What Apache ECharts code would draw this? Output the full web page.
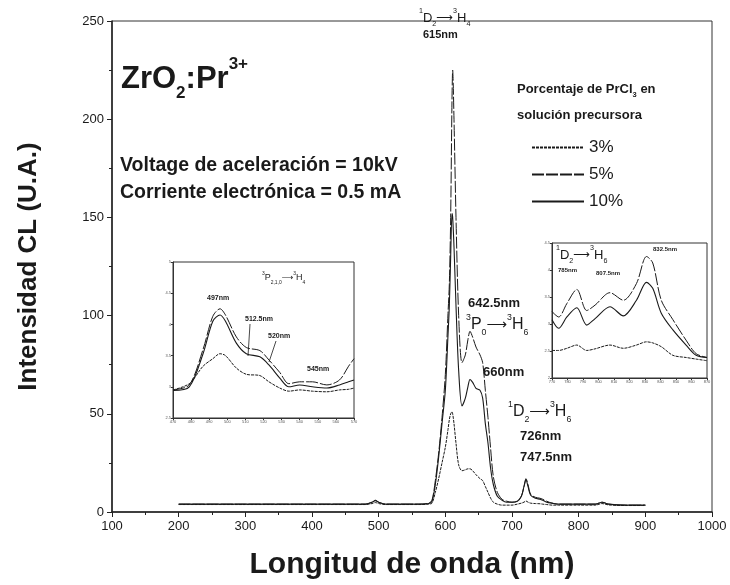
<!DOCTYPE html>
<html>
<head>
<meta charset="utf-8">
<script src="https://cdn.jsdelivr.net/npm/echarts@6/dist/echarts.min.js"></script>
<style>
  html, body { margin: 0; padding: 0; background: #fff; }
  #chart { width: 730px; height: 585px; }
</style>
</head>
<body>
<div id="chart"></div>
<script>
// main spectrum (nm vs CL intensity)
const wavelengths = [200, 300, 400, 480, 490, 495, 500, 510, 560, 575, 580, 585, 590, 595, 600, 604, 606, 608, 610, 611, 613, 616, 620, 625, 630, 634, 637, 641, 646, 652, 656, 660, 664, 668, 672, 678, 685, 692, 700, 708, 714, 718, 721, 724, 728, 735, 742, 746, 752, 760, 770, 800, 825, 835, 845, 870, 900];
const pct5 = [4, 4, 4, 4, 5, 6, 5, 4, 4, 4.5, 6, 16, 30, 48, 70, 101, 116, 150, 210, 225, 200, 150, 100, 76, 80, 88, 92, 89, 84, 80, 76, 62, 48, 32, 18, 10, 6.5, 5.5, 5, 5.5, 8, 13, 17, 14, 9, 7.5, 7, 6.5, 5.5, 4.5, 4, 4, 4, 5, 4, 3.5, 3.5];
const pct10 = [4, 4, 4, 4, 5, 5.8, 5, 4, 4, 4.3, 5.5, 14, 28, 45, 62, 90, 105, 130, 152, 150, 135, 105, 72, 54, 58, 64, 67.5, 66, 63, 62, 58, 45, 35, 22, 14, 8, 6, 5, 5, 5.5, 8, 13, 16.5, 13, 8.5, 7, 6.5, 6, 5, 4.5, 4, 4, 4, 5, 4, 3.5, 3.5];
const pct3 = [3.8, 3.8, 3.8, 3.8, 4.3, 4.8, 4.3, 3.8, 3.8, 4, 4.5, 10, 17, 25, 33, 42, 47, 50, 51, 50, 45, 35, 24, 21, 21.5, 22, 22, 21, 19, 17, 16, 13, 10, 7, 5, 4, 3.5, 3.5, 3.5, 4, 4.5, 5, 5.6, 5, 4.5, 4.3, 4.2, 4, 3.8, 3.5, 3.5, 3.5, 3.5, 4.3, 3.6, 3.3, 3.3];

// inset 1: 3P(2,1,0) -> 3H4 region
const inset1Nm = [470, 479, 486.6, 492, 496, 499, 505, 510.5, 518, 523, 529, 534, 540, 547, 555, 562, 567, 570];
const inset1Pct5 = [2.95, 3.03, 3.6, 4.13, 4.25, 4.15, 3.8, 3.63, 3.58, 3.43, 3.23, 3.05, 3.08, 3.08, 3.03, 3.11, 3.33, 3.45];
const inset1Pct10 = [2.94, 3.0, 3.53, 4.05, 4.15, 4.05, 3.7, 3.53, 3.48, 3.35, 3.14, 3.0, 3.03, 3.0, 2.98, 3.03, 3.08, 3.11];
const inset1Pct3 = [2.95, 3.05, 3.33, 3.45, 3.53, 3.5, 3.3, 3.2, 3.18, 3.08, 2.98, 2.93, 2.95, 2.93, 2.92, 2.95, 2.96, 2.98];

// inset 2: 1D2 -> 3H6 region
const inset2Nm = [770, 774.3, 779.6, 786, 792.4, 797.8, 807.4, 816, 824.5, 831, 835, 840.5, 848, 856.5, 863, 870];
const inset2Pct5 = [3.23, 3.13, 3.38, 3.64, 3.25, 3.35, 3.58, 3.44, 3.75, 4.25, 4.13, 3.44, 3.08, 2.7, 2.45, 2.38];
const inset2Pct10 = [3.08, 2.92, 3.13, 3.3, 2.98, 3.1, 3.32, 3.15, 3.44, 3.77, 3.66, 3.2, 2.89, 2.61, 2.42, 2.38];
const inset2Pct3 = [2.51, 2.51, 2.55, 2.61, 2.51, 2.54, 2.61, 2.55, 2.61, 2.67, 2.65, 2.58, 2.42, 2.38, 2.35, 2.32];

const legendNames = ['3%', '5%', '10%'];

const FONT = '"Liberation Sans", Arial, sans-serif';
const INK = '#1a1a1a';

const zip = (xs, ys) => xs.map((x, i) => [x, ys[i]]);

const styles = {
  '3%': { color: INK, width: 1, type: [3, 1] },
  '5%': { color: INK, width: 1, type: [12, 2] },
  '10%': { color: INK, width: 1.1, type: 'solid' }
};

function line(name, xs, ys, axisIdx) {
  return {
    name: name,
    type: 'line',
    data: zip(xs, ys),
    xAxisIndex: axisIdx,
    yAxisIndex: axisIdx,
    symbol: 'none',
    smooth: 0.3,
    lineStyle: styles[name],
    itemStyle: { color: INK },
    silent: true,
    animation: false
  };
}

function insetAxes(gridIdx, xmin, xmax, xint, ymin, ymax, yint) {
  const common = {
    gridIndex: gridIdx,
    splitLine: { show: false },
    axisLine: { lineStyle: { color: '#333', width: 1 } },
    axisTick: { inside: false, length: 2, lineStyle: { color: '#333' } },
    axisLabel: { fontSize: 4, color: '#555', margin: 2, fontFamily: FONT }
  };
  return {
    x: Object.assign({ type: 'value', min: xmin, max: xmax, interval: xint }, common),
    y: Object.assign({ type: 'value', min: ymin, max: ymax, interval: yint }, common)
  };
}

const a1 = insetAxes(1, 470, 570, 10, 2.5, 5.0, 0.5);
const a2 = insetAxes(2, 770, 870, 10, 2.0, 4.5, 0.5);

function txt(left, top, text, rich, extra) {
  return {
    type: 'text', left: left, top: top, silent: true,
    style: Object.assign({ text: text, rich: rich || {}, fill: INK, fontFamily: FONT }, extra || {})
  };
}

// rich text helpers for spectroscopic terms
function termRich(size) {
  const lh = Math.round(size * 1.5);
  return {
    n: { fontSize: size, fontFamily: FONT, color: INK, lineHeight: lh },
    sup: { fontSize: size * 0.55, fontFamily: FONT, color: INK, verticalAlign: 'top', lineHeight: lh },
    sub: { fontSize: size * 0.55, fontFamily: FONT, color: INK, verticalAlign: 'bottom', lineHeight: lh },
    ar: { fontSize: size * 0.9, fontFamily: '"DejaVu Sans"', color: INK, lineHeight: lh }
  };
}

const chart = echarts.init(document.getElementById('chart'), null, { renderer: 'canvas' });

chart.setOption({
  backgroundColor: '#fff',
  animation: false,
  textStyle: { fontFamily: FONT },
  legend: {
    data: legendNames,
    orient: 'vertical',
    left: 526,
    top: 134,
    itemWidth: 52,
    itemHeight: 10,
    itemGap: 10,
    itemStyle: { opacity: 0 },
    textStyle: { fontSize: 17, color: INK, fontFamily: FONT },
    selectedMode: false
  },
  grid: [
    { left: 112, right: 18, top: 21, bottom: 73, show: true, borderColor: '#333', borderWidth: 1, backgroundColor: 'transparent' },
    { left: 173, top: 262, width: 181, height: 156, show: true, borderColor: '#333', borderWidth: 1, backgroundColor: '#fff' },
    { left: 552, top: 243, width: 155, height: 135, show: true, borderColor: '#333', borderWidth: 1, backgroundColor: '#fff' }
  ],
  xAxis: [
    {
      type: 'value', gridIndex: 0, min: 100, max: 1000, interval: 100,
      name: 'Longitud de onda (nm)', nameLocation: 'middle', nameGap: 38,
      nameTextStyle: { fontSize: 30, fontWeight: 'bold', color: INK, fontFamily: FONT },
      splitLine: { show: false },
      axisLine: { onZero: false, lineStyle: { color: '#222', width: 1.5 } },
      axisTick: { length: 5, lineStyle: { color: '#222' } },
      minorTick: { show: true, splitNumber: 2, length: 3, lineStyle: { color: '#222' } },
      axisLabel: { fontSize: 13, color: INK, margin: 8, fontFamily: FONT, formatter: v => String(v) }
    },
    a1.x, a2.x
  ],
  yAxis: [
    {
      type: 'value', gridIndex: 0, min: 0, max: 250, interval: 50,
      name: 'Intensidad CL (U.A.)', nameLocation: 'middle', nameGap: 70,
      nameTextStyle: { fontSize: 26, fontWeight: 'bold', color: INK, fontFamily: FONT },
      splitLine: { show: false },
      axisLine: { lineStyle: { color: '#222', width: 1.5 } },
      axisTick: { length: 5, lineStyle: { color: '#222' } },
      minorTick: { show: true, splitNumber: 2, length: 3, lineStyle: { color: '#222' } },
      axisLabel: { fontSize: 13, color: INK, margin: 8, fontFamily: FONT }
    },
    a1.y, a2.y
  ],
  series: [
    line('3%', wavelengths, pct3, 0),
    line('5%', wavelengths, pct5, 0),
    line('10%', wavelengths, pct10, 0),
    line('3%', inset1Nm, inset1Pct3, 1),
    line('5%', inset1Nm, inset1Pct5, 1),
    line('10%', inset1Nm, inset1Pct10, 1),
    line('3%', inset2Nm, inset2Pct3, 2),
    line('5%', inset2Nm, inset2Pct5, 2),
    line('10%', inset2Nm, inset2Pct10, 2)
  ],
  graphic: [
    // sample label
    txt(121, 56, '{n|ZrO}{sub|2}{n|:Pr}{sup|3+}', {
      n: { fontSize: 31, fontWeight: 'bold', fontFamily: FONT, color: INK, lineHeight: 46 },
      sub: { fontSize: 17, fontWeight: 'bold', fontFamily: FONT, color: INK, verticalAlign: 'bottom', lineHeight: 46 },
      sup: { fontSize: 17, fontWeight: 'bold', fontFamily: FONT, color: INK, verticalAlign: 'top', lineHeight: 46 }
    }),
    txt(120, 156, 'Voltage de aceleración = 10kV', null, { fontSize: 19.5, fontWeight: 'bold' }),
    txt(120, 183, 'Corriente electrónica = 0.5 mA', null, { fontSize: 19.5, fontWeight: 'bold' }),

    // main peak
    txt(419, 8, '{sup|1}{n|D}{sub|2}{ar|⟶}{sup|3}{n|H}{sub|4}', termRich(13)),
    txt(423, 29, '615nm', null, { fontSize: 11, fontWeight: 'bold' }),

    // legend title
    txt(517, 83, '{n|Porcentaje de PrCl}{sub|3}{n| en}', {
      n: { fontSize: 13, fontWeight: 'bold', fontFamily: FONT, color: INK, lineHeight: 19 },
      sub: { fontSize: 7.5, fontWeight: 'bold', fontFamily: FONT, color: INK, verticalAlign: 'bottom', lineHeight: 19 }
    }),
    txt(517, 109, 'solución precursora', null, { fontSize: 13, fontWeight: 'bold' }),

    // 3P0 -> 3H6 annotation
    txt(468, 297, '642.5nm', null, { fontSize: 13, fontWeight: 'bold' }),
    txt(466, 313, '{sup|3}{n|P}{sub|0}{ar|⟶}{sup|3}{n|H}{sub|6}', termRich(16)),
    txt(483, 366, '660nm', null, { fontSize: 13, fontWeight: 'bold' }),

    // 1D2 -> 3H6 annotation
    txt(508, 400, '{sup|1}{n|D}{sub|2}{ar|⟶}{sup|3}{n|H}{sub|6}', termRich(16)),
    txt(520, 430, '726nm', null, { fontSize: 13, fontWeight: 'bold' }),
    txt(520, 451, '747.5nm', null, { fontSize: 13, fontWeight: 'bold' }),

    // inset 1 labels
    txt(262, 271, '{sup|3}{n|P}{sub|2,1,0}{ar|⟶}{sup|3}{n|H}{sub|4}', termRich(9)),
    txt(207, 295, '497nm', null, { fontSize: 7, fontWeight: 'bold' }),
    txt(245, 316, '512.5nm', null, { fontSize: 7, fontWeight: 'bold' }),
    txt(268, 333, '520nm', null, { fontSize: 7, fontWeight: 'bold' }),
    txt(307, 366, '545nm', null, { fontSize: 7, fontWeight: 'bold' }),
    { type: 'line', silent: true, shape: { x1: 250, y1: 324, x2: 248, y2: 356 }, style: { stroke: INK, lineWidth: 0.8 } },
    { type: 'line', silent: true, shape: { x1: 276, y1: 341, x2: 269, y2: 362 }, style: { stroke: INK, lineWidth: 0.8 } },

    // inset 2 labels
    txt(556, 245, '{sup|1}{n|D}{sub|2}{ar|⟶}{sup|3}{n|H}{sub|6}', termRich(13)),
    txt(558, 267, '785nm', null, { fontSize: 6, fontWeight: 'bold' }),
    txt(596, 270, '807.5nm', null, { fontSize: 6, fontWeight: 'bold' }),
    txt(653, 246, '832.5nm', null, { fontSize: 6, fontWeight: 'bold' })
  ]
});
</script>
</body>
</html>
